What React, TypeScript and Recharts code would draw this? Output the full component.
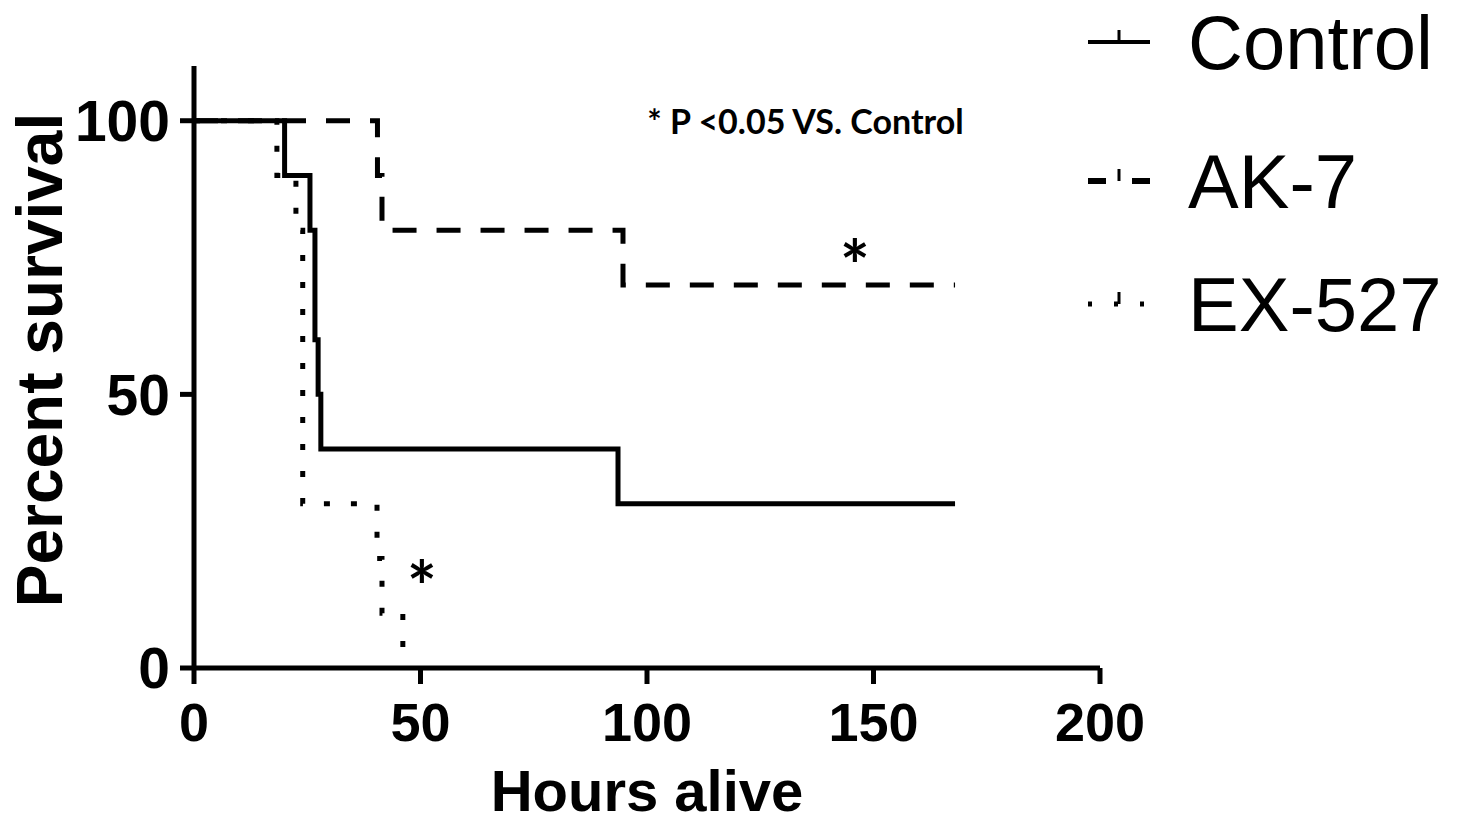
import { Label, Line, LineChart, ReferenceDot, XAxis, YAxis } from "recharts";

// Kaplan-Meier steps (hours -> percent survival)
const controlHours = [0, 20, 25.6, 26.7, 27.4, 28, 93.6, 168];
const controlSurvival = [100, 90, 80, 60, 50, 40, 30, 30];

const ak7Hours = [0, 40.5, 41.5, 94.7, 168];
const ak7Survival = [100, 90, 80, 70, 70];

const ex527Hours = [0, 18.3, 22.5, 24, 40.4, 41.5, 46.1];
const ex527Survival = [100, 90, 80, 30, 20, 10, 0];

const xTicks = [0, 50, 100, 150, 200];
const yTicks = [0, 50, 100];

const FONT = "'Liberation Sans', Arial, sans-serif";
const NOTE_FONT = "Lato, 'Open Sans', sans-serif";

const toPoints = (hours: number[], survival: number[]) =>
  hours.map((h, i) => ({ hours: h, survival: survival[i] }));

const series = [
  { name: "Control", data: toPoints(controlHours, controlSurvival), dash: undefined as string | undefined },
  { name: "AK-7", data: toPoints(ak7Hours, ak7Survival), dash: "24 20" },
  { name: "EX-527", data: toPoints(ex527Hours, ex527Survival), dash: "6 21" },
];

const legendY = [42, 181, 304];

function SurvivalLegend() {
  return (
    <svg width={386} height={360} style={{ position: "absolute", left: 1080, top: 0 }}>
      {series.map((s, i) => {
        const y = legendY[i];
        return (
          <g key={s.name}>
            {i === 0 && <line x1={8} x2={70} y1={y} y2={y} stroke="#000" strokeWidth={4} />}
            {i === 1 && <line x1={8} x2={70} y1={y} y2={y} stroke="#000" strokeWidth={6} strokeDasharray="18 26" />}
            {i === 2 && <line x1={8} x2={70} y1={y} y2={y} stroke="#000" strokeWidth={5} strokeDasharray="4 22" />}
            <line x1={39} x2={39} y1={y - 12} y2={y} stroke="#000" strokeWidth={3} />
            <text x={108} y={y + 27} fontFamily={FONT} fontSize={76} fill="#000">
              {s.name}
            </text>
          </g>
        );
      })}
    </svg>
  );
}

const starLabel = {
  value: "*",
  position: "center" as const,
  fill: "#000",
  fontSize: 70,
  fontWeight: 700,
  fontFamily: NOTE_FONT,
};

export default function App() {
  return (
    <div style={{ position: "absolute", left: 0, top: 0, width: 1466, height: 822, background: "#fff" }}>
      <LineChart width={1466} height={822} margin={{ top: 66, right: 366, bottom: 0, left: 0 }}>
        <XAxis
          type="number"
          dataKey="hours"
          domain={[0, 200]}
          ticks={xTicks}
          height={154}
          tickSize={16}
          tickMargin={19}
          axisLine={{ stroke: "#000", strokeWidth: 5 }}
          tickLine={{ stroke: "#000", strokeWidth: 5 }}
          tick={{ fill: "#000", fontSize: 54, fontWeight: 700, fontFamily: FONT }}
        >
          <Label
            content={({ viewBox }: any) => (
              <text
                x={viewBox.x + viewBox.width / 2}
                y={viewBox.y + 143}
                textAnchor="middle"
                fontFamily={FONT}
                fontSize={58}
                fontWeight={700}
                fill="#000"
              >
                Hours alive
              </text>
            )}
          />
        </XAxis>
        <YAxis
          type="number"
          domain={[0, 110]}
          ticks={yTicks}
          width={194}
          tickSize={14}
          tickMargin={10}
          axisLine={{ stroke: "#000", strokeWidth: 5 }}
          tickLine={{ stroke: "#000", strokeWidth: 5 }}
          tick={{ fill: "#000", fontSize: 57, fontWeight: 700, fontFamily: FONT }}
        >
          <Label
            content={({ viewBox }: any) => {
              const x = viewBox.x + 40;
              const y = viewBox.y + viewBox.height / 2 - 7;
              return (
                <text
                  x={x}
                  y={y}
                  transform={`rotate(-90, ${x}, ${y})`}
                  textAnchor="middle"
                  dominantBaseline="central"
                  fontFamily={FONT}
                  fontSize={64}
                  fontWeight={700}
                  fill="#000"
                >
                  Percent survival
                </text>
              );
            }}
          />
        </YAxis>
        {series.map((s) => (
          <Line
            key={s.name}
            name={s.name}
            data={s.data}
            dataKey="survival"
            type="stepAfter"
            stroke="#000"
            strokeWidth={5}
            strokeDasharray={s.dash}
            strokeLinecap="butt"
            dot={false}
            activeDot={false}
            isAnimationActive={false}
          />
        ))}
        <ReferenceDot
          x={135}
          y={99.7}
          r={0}
          ifOverflow="visible"
          label={{ value: "* P <0.05 VS. Control", position: "center", fill: "#000", fontSize: 34, fontWeight: 700, fontFamily: NOTE_FONT }}
        />
        <ReferenceDot x={145.9} y={73.2} r={0} ifOverflow="visible" label={starLabel} />
        <ReferenceDot x={50.3} y={14.5} r={0} ifOverflow="visible" label={starLabel} />
      </LineChart>
      <SurvivalLegend />
    </div>
  );
}
